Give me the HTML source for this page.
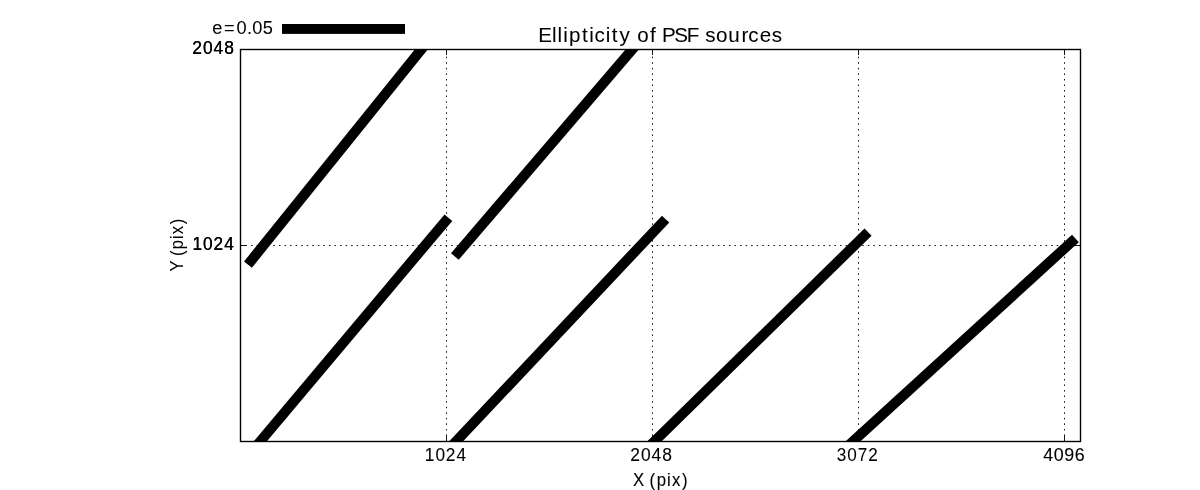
<!DOCTYPE html>
<html>
<head>
<meta charset="utf-8">
<style>
html,body{margin:0;padding:0;background:#fff;}
body{width:1200px;height:490px;overflow:hidden;}
svg{display:block;will-change:transform;}
text{font-family:"Liberation Sans",sans-serif;fill:#000;}
</style>
</head>
<body>
<svg width="1200" height="490" viewBox="0 0 1200 490">
<rect x="0" y="0" width="1200" height="490" fill="#fff"/>
<defs>
<clipPath id="ax"><rect x="240.5" y="49.5" width="840" height="392"/></clipPath>
</defs>
<!-- grid (axis artists are drawn twice in the source figure, which darkens the anti-aliased dots) -->
<g id="grid" stroke="#000" stroke-width="0.7" stroke-dasharray="1.3889 4.1667" fill="none">
<line x1="446.5" y1="441.5" x2="446.5" y2="49.5"/>
<line x1="652.5" y1="441.5" x2="652.5" y2="49.5"/>
<line x1="858.5" y1="441.5" x2="858.5" y2="49.5"/>
<line x1="1064.5" y1="441.5" x2="1064.5" y2="49.5"/>
<line x1="240.1" y1="245.5" x2="1080.5" y2="245.5"/>
</g>
<!-- second pass -->
<g stroke="#000" stroke-width="0.7" stroke-dasharray="1.3889 4.1667" fill="none">
<line x1="446.5" y1="441.5" x2="446.5" y2="49.5"/>
<line x1="652.5" y1="441.5" x2="652.5" y2="49.5"/>
<line x1="858.5" y1="441.5" x2="858.5" y2="49.5"/>
<line x1="1064.5" y1="441.5" x2="1064.5" y2="49.5"/>
<line x1="240.1" y1="245.5" x2="1080.5" y2="245.5"/>
</g>
<!-- ticks -->
<g id="ticks" stroke="#000" stroke-width="0.7" fill="none">
<path d="M446.5 441.5v-5.556M652.5 441.5v-5.556M858.5 441.5v-5.556M1064.5 441.5v-5.556"/>
<path d="M446.5 49.5v5.556M652.5 49.5v5.556M858.5 49.5v5.556M1064.5 49.5v5.556"/>
<path d="M240.5 245.5h5.556M1080.5 245.5h-5.556"/>
</g>
<!-- second pass -->
<g stroke="#000" stroke-width="0.7" fill="none">
<path d="M446.5 441.5v-5.556M652.5 441.5v-5.556M858.5 441.5v-5.556M1064.5 441.5v-5.556"/>
<path d="M446.5 49.5v5.556M652.5 49.5v5.556M858.5 49.5v5.556M1064.5 49.5v5.556"/>
<path d="M240.5 245.5h5.556M1080.5 245.5h-5.556"/>
</g>
<!-- whiskers -->
<g clip-path="url(#ax)" stroke="#000" stroke-width="10.1" stroke-linecap="butt" fill="none">
<line x1="247.95" y1="264.65" x2="436.96" y2="30"/>
<line x1="454.85" y1="256.5" x2="648.9" y2="30"/>
<line x1="244.6" y1="460" x2="448.4" y2="217.65"/>
<line x1="438.5" y1="460" x2="665.6" y2="219.1"/>
<line x1="635.4" y1="460" x2="868.05" y2="232.05"/>
<line x1="832.55" y1="460" x2="1075.4" y2="238.45"/>
</g>
<!-- key -->
<rect x="282" y="24" width="123" height="9.9" fill="#000"/>
<!-- spines -->
<rect x="240.5" y="49.5" width="840" height="392" fill="none" stroke="#000" stroke-width="1.39"/>
<!-- text -->
<text transform="translate(538.91 41.60) scale(1.0376 1)" x="-0.589 12.651 18.007 23.372 28.968 41.452 48.520 53.503 64.473 70.318 77.639 88.310 94.819 107.115 113.016 118.661 130.368 142.452 154.089 160.409 170.640 182.598 195.306 201.821 212.756 224.360" font-size="19.85" stroke="#000" stroke-width="0.05">Ellipticity of PSF sources</text>
<text transform="translate(212.11 33.98) scale(1.0337 1)" x="0.085 11.500 23.588 33.706 38.933 49.104" font-size="17.65" stroke="#000" stroke-width="0.05">e=0.05</text>
<text transform="translate(191.98 53.67) scale(0.9895 1)" x="0.224 11.135 21.823 32.514" font-size="17.65" stroke="#000" stroke-width="0.05">2048</text>
<text transform="translate(191.98 53.67) scale(0.9895 1)" x="0.224 11.135 21.823 32.514" font-size="17.65" stroke="#000" stroke-width="0.05">2048</text>
<text transform="translate(191.99 249.97) scale(0.9764 1)" x="0.431 11.351 21.960 33.016" font-size="17.65" stroke="#000" stroke-width="0.05">1024</text>
<text transform="translate(191.99 249.97) scale(0.9764 1)" x="0.431 11.351 21.960 33.016" font-size="17.65" stroke="#000" stroke-width="0.05">1024</text>
<text transform="translate(424.34 460.98) scale(0.9764 1)" x="0.431 11.351 21.960 33.016" font-size="17.65" stroke="#000" stroke-width="0.1">1024</text>
<text transform="translate(630.03 460.98) scale(0.9895 1)" x="0.224 11.135 21.823 32.514" font-size="17.65" stroke="#000" stroke-width="0.1">2048</text>
<text transform="translate(836.11 460.98) scale(0.9713 1)" x="0.569 11.437 22.293 32.991" font-size="17.65" stroke="#000" stroke-width="0.05">3072</text>
<text transform="translate(1042.81 460.98) scale(1.0118 1)" x="0.328 10.782 21.184 31.690" font-size="17.65" stroke="#000" stroke-width="0.1">4096</text>
<text transform="translate(632.88 485.90) scale(0.8901 1)" x="0.107 12.795 18.776 26.853 38.394 43.857 55.109" font-size="18.83" stroke="#000" stroke-width="0.1">X (pix)</text>
<text transform="translate(182.55 272.03) rotate(-90) scale(0.8865 1)" x="0.590 11.455 18.039 25.592 37.166 42.661 53.951" font-size="18.83">Y (pix)</text>
</svg>
</body>
</html>
